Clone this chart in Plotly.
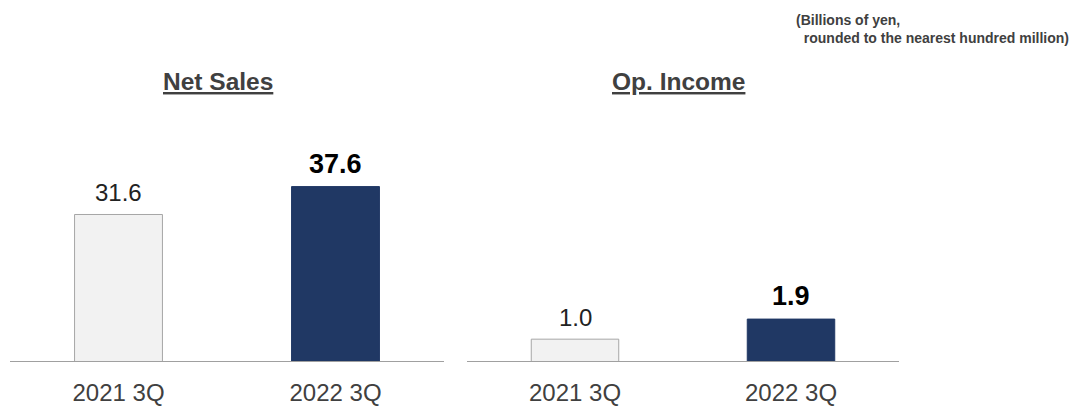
import plotly.graph_objects as go

# Quarterly results (billions of yen)
categories = ["2021 3Q", "2022 3Q"]
net_sales = [31.6, 37.6]
op_income = [1.0, 1.9]

FONT = "Arial, 'Liberation Sans', sans-serif"
GREY_TEXT = "#404040"
FILL = ["#F2F2F2", "#203864"]
EDGE = ["#A6A6A6", "#203864"]

W, H = 1075, 406
BASE_PX = 40  # space under the baseline for category labels

fig = go.Figure()

fig.add_trace(go.Bar(
    x=categories, y=net_sales, xaxis="x", yaxis="y",
    marker=dict(color=FILL, line=dict(color=EDGE, width=1)),
    hoverinfo="skip", showlegend=False,
))
fig.add_trace(go.Bar(
    x=categories, y=op_income, xaxis="x2", yaxis="y2",
    marker=dict(color=FILL, line=dict(color=EDGE, width=1)),
    hoverinfo="skip", showlegend=False,
))

# Value labels above each bar; the current period is bold
annotations = []
for xref, yref, vals in (("x", "y", net_sales), ("x2", "y2", op_income)):
    for i, (c, v) in enumerate(zip(categories, vals)):
        txt = f"{v:.1f}"
        if i == 1:
            txt = f"<b>{txt}</b>"
        annotations.append(dict(
            x=c, y=v, xref=xref, yref=yref, text=txt, showarrow=False,
            yanchor="bottom", yshift=6,
            font=dict(family=FONT, size=27 if i == 1 else 24,
                      color="#000000" if i == 1 else "#222222"),
        ))

# Panel titles
for xc, title in ((218, "Net Sales"), (678, "Op. Income")):
    annotations.append(dict(
        x=xc / W, y=1 - 83 / H, xref="paper", yref="paper",
        text=f"<b><u>{title}</u></b>", showarrow=False,
        xanchor="center", yanchor="middle",
        font=dict(family=FONT, size=24.5, color=GREY_TEXT),
    ))

# Unit note
annotations.append(dict(
    x=1070 / W, y=1 - 29 / H, xref="paper", yref="paper",
    text="<b>(Billions of yen,<br>  rounded to the nearest hundred million)</b>",
    showarrow=False, xanchor="right", yanchor="middle", align="left",
    borderpad=0,
    font=dict(family=FONT, size=14, color=GREY_TEXT),
))

xaxis_common = dict(
    showline=True, linecolor="#A0A0A0", linewidth=1,
    showgrid=False, zeroline=False, ticks="",
    tickfont=dict(family=FONT, size=24, color=GREY_TEXT),
    ticklabelstandoff=10, fixedrange=True,
)
yaxis_common = dict(visible=False, showgrid=False, zeroline=False,
                    domain=[BASE_PX / H, 1], fixedrange=True)

plot_h = H - BASE_PX
fig.update_layout(
    width=W, height=H,
    margin=dict(l=0, r=0, t=0, b=0),
    paper_bgcolor="white", plot_bgcolor="white",
    bargap=0.595,
    xaxis=dict(domain=[10 / W, 444 / W], **xaxis_common),
    xaxis2=dict(domain=[467 / W, 899 / W], anchor="y2", **xaxis_common),
    yaxis=dict(range=[0, plot_h / 4.71], anchor="x", **yaxis_common),
    yaxis2=dict(range=[0, plot_h / 22.6], anchor="x2", **yaxis_common),
    annotations=annotations,
    font=dict(family=FONT),
)

fig.write_html("out.html")
